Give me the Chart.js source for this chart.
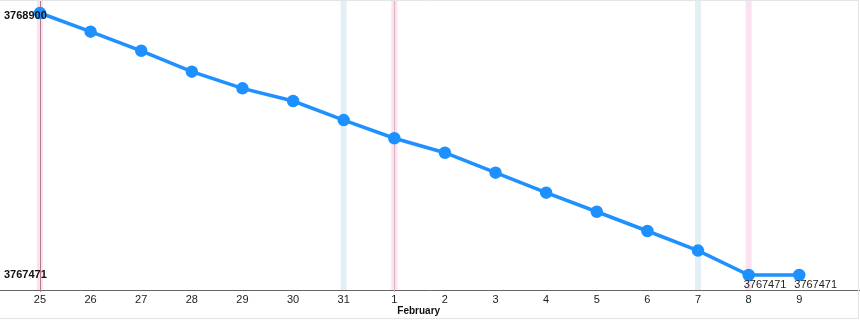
<!DOCTYPE html>
<html>
<head>
<meta charset="utf-8">
<script src="https://cdn.jsdelivr.net/npm/chart.js@4/dist/chart.umd.min.js"></script>
<style>
  body { margin: 0; background: #fff; }
  #wrap { position: relative; width: 860px; height: 320px; }
</style>
</head>
<body>
<div id="wrap"><canvas id="myChart" width="860" height="320"></canvas></div>
<script>
const dayLabels = ['25', '26', '27', '28', '29', '30', '31', '1', '2', '3', '4', '5', '6', '7', '8', '9'];
const values = [3768900, 3768798, 3768694, 3768580, 3768489, 3768420, 3768316, 3768217,
                3768138, 3768029, 3767920, 3767816, 3767711, 3767604, 3767471, 3767471];
const months = ['February'];
const monthStarts = ['1'];
const pinkBands = ['25', '1', '8'];
const blueBands = ['31', '7'];
const markLines = ['25', '1'];

const lo = Math.min(...values);
const hi = Math.max(...values);
const yUnit = (hi - lo) / 262;

const ctx = document.getElementById('myChart').getContext('2d');

const decorations = {
    id: 'decorations',
    beforeDatasetsDraw(chart) {
        const c = chart.ctx;
        const x = chart.scales.x;
        const area = chart.chartArea;
        c.save();
        blueBands.forEach(d => {
            const px = x.getPixelForValue(dayLabels.indexOf(d));
            c.fillStyle = '#e2eff5';
            c.fillRect(px - 3, area.top, 6, area.bottom - area.top);
        });
        pinkBands.forEach(d => {
            const px = x.getPixelForValue(dayLabels.indexOf(d));
            c.fillStyle = '#fbe2ee';
            c.fillRect(px - 3, area.top, 6, area.bottom - area.top);
        });
        markLines.forEach((d, i) => {
            const px = Math.round(x.getPixelForValue(dayLabels.indexOf(d))) + 0.5;
            c.strokeStyle = i === 0 ? '#b07a8e' : '#dcb4c4';
            c.lineWidth = 1;
            c.beginPath();
            c.moveTo(px, area.top);
            c.lineTo(px, area.bottom + 2);
            c.stroke();
        });
        c.restore();
    },
    afterDatasetsDraw(chart) {
        const c = chart.ctx;
        const x = chart.scales.x;
        const y = chart.scales.y;
        const area = chart.chartArea;
        c.save();
        // y extremes written inside the plot
        c.font = 'bold 11px "Liberation Sans", Arial, sans-serif';
        c.fillStyle = '#111';
        c.textAlign = 'left';
        c.textBaseline = 'middle';
        [hi, lo].forEach(v => {
            const py = Math.max(y.getPixelForValue(v), area.top + 16);
            c.fillText(String(v), 4, py);
        });
        // labels under the lowest points
        c.font = '11px "Liberation Sans", Arial, sans-serif';
        c.fillStyle = '#222';
        c.textAlign = 'left';
        values.forEach((v, i) => {
            if (v === lo) {
                c.fillText(String(v), x.getPixelForValue(i) - 5, y.getPixelForValue(v) + 10);
            }
        });
        // month names
        c.font = 'bold 10px "Liberation Sans", Arial, sans-serif';
        c.fillStyle = '#111';
        c.textAlign = 'left';
        months.forEach((m, i) => {
            const px = x.getPixelForValue(dayLabels.indexOf(monthStarts[i]));
            c.fillText(m, px + 3, area.bottom + 21);
        });
        // frame
        c.strokeStyle = '#e4e4e4';
        c.lineWidth = 1;
        c.beginPath();
        c.moveTo(0, 0.5);
        c.lineTo(858.5, 0.5);
        c.lineTo(858.5, 318.5);
        c.lineTo(0, 318.5);
        c.stroke();
        c.restore();
    }
};

new Chart(ctx, {
    type: 'line',
    data: {
        datasets: [{
            data: values.map((v, i) => ({ x: i, y: v })),
            borderColor: 'rgb(30, 144, 255)',
            backgroundColor: 'rgb(30, 144, 255)',
            borderWidth: 3.5,
            pointRadius: 4.5,
            pointHoverRadius: 4.5,
            tension: 0,
            fill: false,
            clip: false
        }]
    },
    options: {
        responsive: false,
        animation: false,
        layout: { padding: 0, autoPadding: false },
        plugins: { legend: { display: false }, tooltip: { enabled: false } },
        scales: {
            x: {
                type: 'linear',
                min: -0.79,
                max: 16.2,
                afterBuildTicks(scale) {
                    scale.ticks = values.map((v, i) => ({ value: i }));
                },
                afterFit(scale) {
                    scale.height = 30;
                },
                grid: { display: false, drawTicks: false },
                border: { display: true, color: '#666', width: 1 },
                ticks: {
                    padding: 3,
                    maxRotation: 0,
                    autoSkip: false,
                    color: '#222',
                    font: { family: '"Liberation Sans", Arial, sans-serif', size: 11 },
                    callback: v => dayLabels[v]
                }
            },
            y: {
                display: false,
                min: lo - 15 * yUnit,
                max: hi + 13 * yUnit
            }
        }
    },
    plugins: [decorations]
});
</script>
</body>
</html>
